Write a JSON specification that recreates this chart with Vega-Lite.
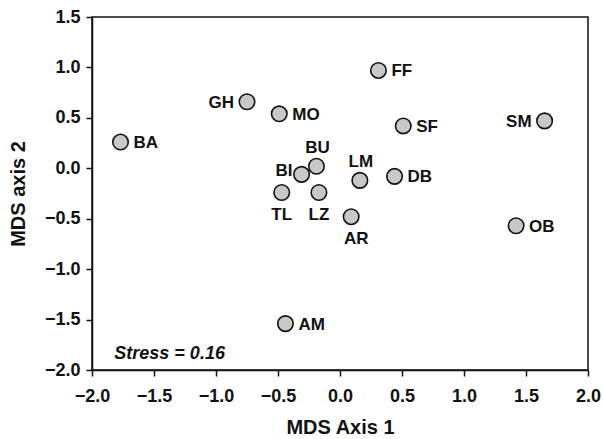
{
  "$schema": "https://vega.github.io/schema/vega-lite/v6.json",
  "width": 496,
  "height": 353,
  "autosize": {"type": "none"},
  "padding": {"left": 92, "top": 17, "right": 15, "bottom": 69},
  "background": "white",
  "config": {
    "view": {"stroke": "#111111", "strokeWidth": 1.5},
    "font": "Liberation Sans",
    "axis": {
      "grid": false,
      "labelFlush": false,
      "domainColor": "#111111",
      "domainWidth": 1.5,
      "tickColor": "#111111",
      "tickWidth": 1.5,
      "tickSize": 6,
      "labelFont": "Liberation Sans",
      "labelFontSize": 18,
      "labelFontWeight": "bold",
      "labelColor": "#111111",
      "titleFont": "Liberation Sans",
      "titleFontSize": 20,
      "titleFontWeight": "bold",
      "titleColor": "#111111"
    }
  },
  "datasets": {
    "sites": [
      {"site": "BA", "x": -1.77, "y": 0.26},
      {"site": "GH", "x": -0.75, "y": 0.66},
      {"site": "MO", "x": -0.49, "y": 0.54},
      {"site": "FF", "x": 0.31, "y": 0.97},
      {"site": "SF", "x": 0.51, "y": 0.42},
      {"site": "SM", "x": 1.65, "y": 0.47},
      {"site": "BU", "x": -0.19, "y": 0.02},
      {"site": "BI", "x": -0.31, "y": -0.06},
      {"site": "TL", "x": -0.47, "y": -0.24},
      {"site": "LZ", "x": -0.17, "y": -0.24},
      {"site": "LM", "x": 0.16, "y": -0.12},
      {"site": "DB", "x": 0.44, "y": -0.08},
      {"site": "AR", "x": 0.09, "y": -0.48},
      {"site": "OB", "x": 1.42, "y": -0.57},
      {"site": "AM", "x": -0.44, "y": -1.54}
    ],
    "note": [{"label": "Stress = 0.16", "x": -1.82, "y": -1.84}]
  },
  "data": {"name": "sites"},
  "encoding": {
    "x": {
      "field": "x", "type": "quantitative",
      "scale": {"domain": [-2, 2], "nice": false, "zero": false},
      "axis": {"title": "MDS Axis 1", "values": [-2, -1.5, -1, -0.5, 0, 0.5, 1, 1.5, 2], "format": ".1f", "labelPadding": 11, "titlePadding": 12}
    },
    "y": {
      "field": "y", "type": "quantitative",
      "scale": {"domain": [-2, 1.5], "nice": false, "zero": false},
      "axis": {"title": "MDS axis 2", "values": [-2, -1.5, -1, -0.5, 0, 0.5, 1, 1.5], "format": ".1f", "labelPadding": 6, "titlePadding": 16}
    }
  },
  "layer": [
    {
      "mark": {"type": "point", "shape": "circle", "filled": true, "size": 240, "fill": "#c8c8c8", "stroke": "#111111", "strokeWidth": 1.6, "opacity": 1}
    },
    {
      "transform": [{"filter": {"field": "site", "oneOf": ["BA", "MO", "FF", "SF", "DB", "OB", "AM"]}}],
      "mark": {"type": "text", "align": "left", "baseline": "middle", "dx": 13, "dy": 1, "fontSize": 17, "fontWeight": "bold", "color": "#111111"},
      "encoding": {"text": {"field": "site"}}
    },
    {
      "transform": [{"filter": {"field": "site", "oneOf": ["GH", "SM"]}}],
      "mark": {"type": "text", "align": "right", "baseline": "middle", "dx": -13, "dy": 1, "fontSize": 17, "fontWeight": "bold", "color": "#111111"},
      "encoding": {"text": {"field": "site"}}
    },
    {
      "transform": [{"filter": {"field": "site", "oneOf": ["BI"]}}],
      "mark": {"type": "text", "align": "right", "baseline": "middle", "dx": -9, "dy": -3, "fontSize": 17, "fontWeight": "bold", "color": "#111111"},
      "encoding": {"text": {"field": "site"}}
    },
    {
      "transform": [{"filter": {"field": "site", "oneOf": ["BU", "LM"]}}],
      "mark": {"type": "text", "align": "center", "baseline": "middle", "dx": 1, "dy": -18, "fontSize": 17, "fontWeight": "bold", "color": "#111111"},
      "encoding": {"text": {"field": "site"}}
    },
    {
      "transform": [{"filter": {"field": "site", "oneOf": ["TL", "LZ"]}}],
      "mark": {"type": "text", "align": "center", "baseline": "middle", "dx": 0, "dy": 23, "fontSize": 17, "fontWeight": "bold", "color": "#111111"},
      "encoding": {"text": {"field": "site"}}
    },
    {
      "transform": [{"filter": {"field": "site", "oneOf": ["AR"]}}],
      "mark": {"type": "text", "align": "center", "baseline": "middle", "dx": 5, "dy": 22, "fontSize": 17, "fontWeight": "bold", "color": "#111111"},
      "encoding": {"text": {"field": "site"}}
    },
    {
      "data": {"name": "note"},
      "mark": {"type": "text", "align": "left", "baseline": "middle", "fontSize": 18, "fontWeight": "bold", "fontStyle": "italic", "color": "#111111"},
      "encoding": {"text": {"field": "label"}}
    }
  ]
}
